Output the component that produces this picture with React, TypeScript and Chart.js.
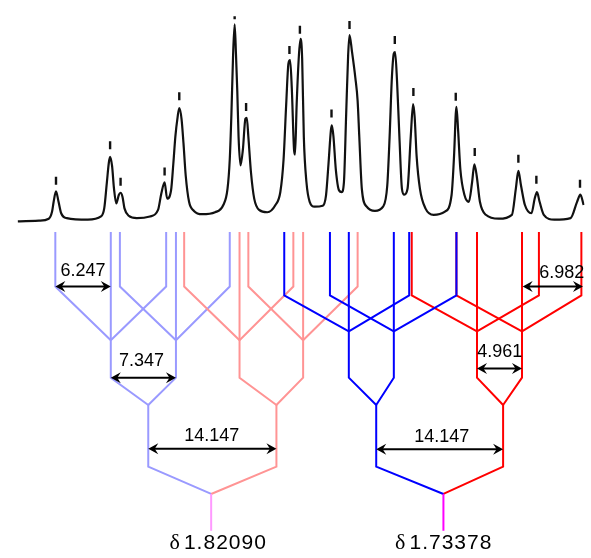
import React, { useEffect, useRef } from 'react';
import { Chart, registerables } from 'chart.js';
Chart.register(...registerables);

// ---- Spectrum trace (diagram units, y grows downward) ----
const specX = [11.7, 33.3, 43.3, 46.7, 48.3, 50.7, 53.3, 56, 61.7, 83.3, 96.7, 100, 102.7, 104.7, 106, 108, 110, 112.3, 115, 116.7, 118.7, 120.7, 125, 133.3, 146.7, 155, 158.3, 161.7, 164.3, 168.3, 170.7, 172.7, 175, 176.7, 179, 181, 183.3, 186.7, 191.7, 200, 213.3, 221.7, 226, 228.3, 230, 231.7, 233.3, 234.7, 236, 237.3, 239.3, 241.7, 244.3, 245.7, 247.3, 250, 253.3, 258.3, 266.7, 275, 280, 283.3, 286, 288.3, 290, 291.7, 294, 295, 296.7, 299, 300.7, 302.3, 304, 306.7, 310, 315, 323.3, 326.7, 329.3, 331.7, 332.7, 334.3, 336.7, 340, 342.7, 345, 347.3, 349.3, 350.7, 353.3, 356.7, 359, 360.7, 363.3, 368.3, 376.7, 385, 389.3, 391.7, 394, 396, 397.3, 399.3, 401.7, 404.3, 406.7, 410, 413.3, 415.7, 417.3, 419.3, 422.7, 428.3, 436.7, 448.3, 455, 457.7, 459.3, 460, 461.7, 464, 468.3, 472.7, 476, 478.3, 480.7, 484, 490, 503.3, 516.7, 520.7, 523.3, 526, 530, 536.7, 540, 542.3, 545, 549.3, 560, 576.7, 583.3, 586.7, 590];
const specY = [220, 219.3, 217.3, 210, 200, 189.3, 200, 211.7, 216.7, 218.3, 215, 206.7, 180, 160, 154, 163.3, 186.7, 201.7, 192.7, 190.7, 195, 206.7, 214.3, 216.7, 215, 208.3, 191.7, 180, 196.7, 188.3, 160, 133.3, 113.3, 104, 115, 140, 173.3, 200, 209.3, 212.7, 210.7, 203.3, 186.7, 156.7, 110, 50, 18.3, 50, 86.7, 133.3, 162.7, 146.7, 115, 114, 133.3, 170, 196.7, 208.3, 210.7, 203.3, 190, 156.7, 100, 58.3, 55, 83.3, 146.7, 151.7, 100, 50, 33.3, 53.3, 133.3, 180, 200, 205, 204, 193.3, 160, 126.7, 121.7, 133.3, 166.7, 188.3, 190, 180, 110, 50, 29.3, 46.7, 73.3, 96.7, 133.3, 186.7, 205, 209.3, 205, 183.3, 133.3, 73.3, 48.3, 46.7, 76.7, 133.3, 186.7, 192.7, 186.7, 133.3, 100, 113.3, 153.3, 186.7, 206.7, 213.3, 210, 193.3, 150, 110, 102.7, 126.7, 166.7, 193.3, 200, 180, 161.7, 173.3, 200, 213.3, 217.3, 213.3, 186.7, 168.3, 183.3, 203.3, 211.7, 196.7, 190, 200, 213.3, 218.3, 216.7, 200, 192.7, 203.3];

// ---- Peak pick markers ----
const peakX = [50.7, 106, 116.7, 161.7, 176.7, 233.3, 245, 289.3, 300, 332.3, 350.7, 397, 416, 459.3, 478.7, 523.3, 541.7, 586.3];
const peakMarkY = [178.5, 142, 179.5, 169, 92, 11.5, 103, 44.5, 24, 109.5, 19, 34.5, 87.5, 92.5, 149, 156, 177.5, 181.5];

// ---- Splitting trees ----
const rootX = [209.3, 446.7];
const rootColors = ['#ff99ff', '#ff00ff'];
const branchRoot = [0, 0, 1, 1];
const branchStemX = [145, 276, 378, 507.7];
const branchDoublet = [[106.7, 173.3], [238.3, 303.3], [350, 396], [481, 527]];
const branchTripletOuter = [
  [[50, 163.3], [116, 228.3]],
  [[181.7, 293.3], [247.3, 359]],
  [[284, 411.7], [330.7, 460]],
  [[414.3, 544.3], [460, 587.7]],
];
const branchColors = ['#9a9aff', '#ff9494', '#0000ff', '#ff0000'];
const branchDark = [false, false, true, true];
const branchOrder = [5, 4, 2, 3];

// ---- Coupling arrows ----
const arrowLabels = ['6.247', '7.347', '14.147', '14.147', '4.961', '6.982'];
const arrowFrom = [50, 106.7, 145, 378, 481, 527.7];
const arrowTo = [106.7, 173.3, 276, 507.7, 527, 589.3];
const arrowY = [286.7, 380, 452.7, 453.3, 370.7, 286.7];
const arrowLabelX = [78.3, 138, 210, 445, 504.3, 567.7];
const arrowLabelY = [271.3, 362.5, 439.5, 441, 353.8, 273.3];

// ---- Chemical shift labels ----
const shiftLabels = ['1.82090', '1.73378'];
const shiftX = [216.5, 447];
const shiftY = [549, 549];

// level heights of the tree (diagram units)
const L = {
  top: 231,
  bendLight: 286.7,
  bendDark: 295.7,
  triLight: 341.7,
  triDark: 332.7,
  dBottom: 380,
  vertex: 408,
  split: 471,
  root: 499,
  stemEnd: 536.7,
};

function pts(arr: number[][]) {
  return arr.map(([x, y]) => ({ x, y }));
}

export default function App() {
  const ref = useRef<HTMLCanvasElement>(null);
  useEffect(() => {
    if (!ref.current) return;
    const lineDs = (data: number[][], color: string, order: number, width = 2) => ({
      type: 'scatter' as const,
      data: pts(data),
      showLine: true,
      borderColor: color,
      backgroundColor: color,
      borderWidth: width,
      pointRadius: 0,
      fill: false,
      tension: 0,
      order,
      borderCapStyle: 'butt',
      borderJoinStyle: 'miter',
    });
    const datasets: any[] = [];
    datasets.push({
      type: 'scatter',
      data: specX.map((x, i) => ({ x, y: specY[i] })),
      showLine: true,
      borderColor: '#111',
      borderWidth: 2.2,
      pointRadius: 0,
      cubicInterpolationMode: 'monotone',
      order: 0,
    });
    datasets.push({
      type: 'scatter',
      data: peakX.map((x, i) => ({ x, y: peakMarkY[i] })),
      showLine: false,
      pointStyle: 'line',
      rotation: 90,
      pointRadius: peakX.map((_, i) => (i === 5 ? 1.5 : 4)),
      borderColor: '#111',
      borderWidth: 2.4,
      order: 0,
    });
    branchStemX.forEach((vx, b) => {
      const col = branchColors[b];
      const ord = branchOrder[b];
      const bend = branchDark[b] ? L.bendDark : L.bendLight;
      const tri = branchDark[b] ? L.triDark : L.triLight;
      datasets.push(lineDs([[vx, L.vertex], [vx, L.split], [rootX[branchRoot[b]], L.root]], col, ord));
      branchDoublet[b].forEach((d, j) => {
        datasets.push(lineDs([[d, L.top], [d, L.dBottom], [vx, L.vertex]], col, ord));
        branchTripletOuter[b][j].forEach((c) => {
          datasets.push(lineDs([[c, L.top], [c, bend], [d, tri]], col, ord));
        });
      });
    });
    rootX.forEach((rx, i) => {
      datasets.push(lineDs([[rx, L.root], [rx, L.stemEnd]], rootColors[i], 1));
    });

    const annot = {
      id: 'annot',
      afterDatasetsDraw(chart: any) {
        const ctx = chart.ctx;
        const xs = chart.scales.x;
        const ys = chart.scales.y;
        ctx.save();
        ctx.strokeStyle = '#000';
        ctx.fillStyle = '#000';
        arrowLabels.forEach((lab, i) => {
          const x1 = xs.getPixelForValue(arrowFrom[i]);
          const x2 = xs.getPixelForValue(arrowTo[i]);
          const y = ys.getPixelForValue(arrowY[i]);
          ctx.lineWidth = 2;
          ctx.beginPath();
          ctx.moveTo(x1 + 3, y);
          ctx.lineTo(x2 - 3, y);
          ctx.stroke();
          const head = (tx: number, dir: number) => {
            ctx.beginPath();
            ctx.moveTo(tx, y);
            ctx.lineTo(tx + dir * 10, y - 5.5);
            ctx.lineTo(tx + dir * 6.5, y);
            ctx.lineTo(tx + dir * 10, y + 5.5);
            ctx.closePath();
            ctx.fill();
          };
          head(x1, 1);
          head(x2, -1);
          ctx.font = '18px "Liberation Sans", Arial, sans-serif';
          ctx.textAlign = 'center';
          ctx.textBaseline = 'middle';
          ctx.fillText(lab, xs.getPixelForValue(arrowLabelX[i]), ys.getPixelForValue(arrowLabelY[i]));
        });
        shiftLabels.forEach((lab, i) => {
          const cx = xs.getPixelForValue(shiftX[i]);
          const cy = ys.getPixelForValue(shiftY[i]);
          ctx.textBaseline = 'middle';
          ctx.textAlign = 'left';
          ctx.font = '22px "Liberation Serif", "Times New Roman", serif';
          const wd = ctx.measureText('δ').width;
          ctx.font = '21px "Liberation Sans", Arial, sans-serif';
          (ctx as any).letterSpacing = '1px';
          const wn = ctx.measureText(lab).width;
          const gap = 4;
          const start = cx - (wd + gap + wn) / 2;
          ctx.fillText(lab, start + wd + gap, cy);
          (ctx as any).letterSpacing = '0px';
          ctx.font = '22px "Liberation Serif", "Times New Roman", serif';
          ctx.fillText('δ', start, cy);
        });
        ctx.restore();
      },
    };

    const chart = new Chart(ref.current, {
      type: 'scatter',
      data: { datasets },
      options: {
        responsive: false,
        animation: false,
        devicePixelRatio: 1,
        events: [],
        layout: { padding: 0 },
        plugins: { legend: { display: false }, tooltip: { enabled: false } },
        scales: {
          x: { type: 'linear', display: false, min: 0, max: 591 },
          y: { type: 'linear', display: false, min: 0, max: 558, reverse: true },
        },
      },
      plugins: [annot],
    } as any);
    return () => chart.destroy();
  }, []);
  return (
    <div style={{ position: 'fixed', left: 0, top: 0, width: 591, height: 558, background: '#fff' }}>
      <canvas ref={ref} width={591} height={558} style={{ display: 'block' }} />
    </div>
  );
}
